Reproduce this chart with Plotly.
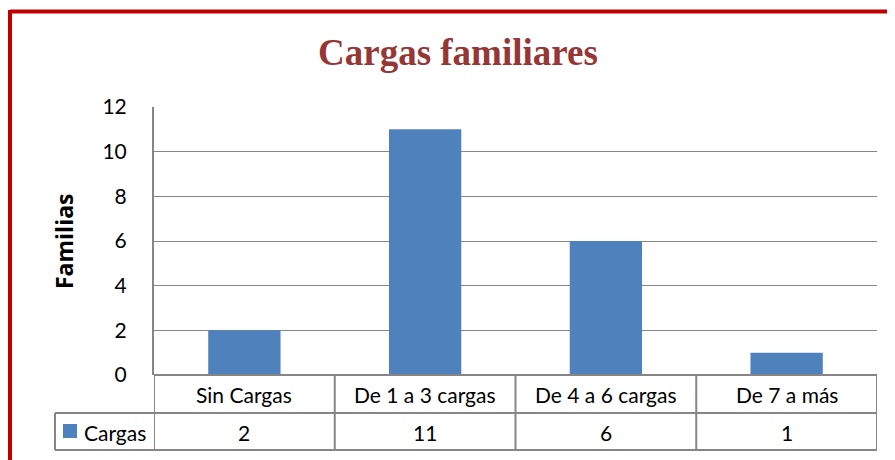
import plotly.graph_objects as go

categories = ["Sin Cargas", "De 1 a 3 cargas", "De 4 a 6 cargas", "De 7 a más"]
values = [2, 11, 6, 1]
series_name = "Cargas"
title_text = "Cargas familiares"
y_title = "Familias"
y_ticks = [0, 2, 4, 6, 8, 10, 12]

W, H = 895, 460
OFF = 8  # page body margin
L, R, T, B = 154, 877, 107, 375  # plot area in screen pixels

def px(x):
    return (x - L) / (R - L)

def py(y):
    return (B - y) / (B - T)

BAR = "#4F81BD"
GRID = "#868686"
FONT = "Lato"
FS = 21

fig = go.Figure()
fig.add_trace(go.Bar(x=list(range(len(categories))), y=values, marker=dict(color=BAR, line=dict(width=0)),
                     name=series_name, showlegend=False))

shapes = []
# red frame
shapes.append(dict(type="line", xref="paper", yref="paper", x0=px(10), x1=px(900), y0=py(11.5), y1=py(11.5),
                   line=dict(color="#C00000", width=4)))
shapes.append(dict(type="line", xref="paper", yref="paper", x0=px(10), x1=px(10), y0=py(10), y1=py(470),
                   line=dict(color="#C00000", width=4)))
# table horizontal lines
for yy, x0 in [(B, L), (413, 55), (450, 55)]:
    shapes.append(dict(type="line", xref="paper", yref="paper", x0=px(x0), x1=px(R), y0=py(yy), y1=py(yy),
                       line=dict(color=GRID, width=2)))
# table vertical lines
shapes.append(dict(type="line", xref="paper", yref="paper", x0=px(55), x1=px(55), y0=py(413), y1=py(450),
                   line=dict(color=GRID, width=2)))
n = len(categories)
for i in range(n + 1):
    shapes.append(dict(type="line", xref="x", yref="paper", x0=i - 0.5, x1=i - 0.5, y0=py(B), y1=py(450),
                       line=dict(color=GRID, width=2)))
# legend key
shapes.append(dict(type="rect", xref="paper", yref="paper", x0=px(63), x1=px(77), y0=py(438), y1=py(424),
                   fillcolor=BAR, line=dict(width=0)))

annotations = []
for i, c in enumerate(categories):
    annotations.append(dict(x=i, y=py(394), xref="x", yref="paper", text=c, showarrow=False,
                            font=dict(family=FONT, size=FS, color="black"), xanchor="center", yanchor="middle"))
    annotations.append(dict(x=i, y=py(432), xref="x", yref="paper", text=str(values[i]), showarrow=False,
                            font=dict(family=FONT, size=FS, color="black"), xanchor="center", yanchor="middle"))
annotations.append(dict(x=px(82), y=py(432), xref="paper", yref="paper", text=series_name, showarrow=False,
                        font=dict(family=FONT, size=FS, color="black"), xanchor="left", yanchor="middle"))
annotations.append(dict(x=px(64), y=py(242), xref="paper", yref="paper", text="<b>" + y_title + "</b>",
                        showarrow=False, textangle=-90, font=dict(family="Open Sans", size=23, color="black"),
                        xanchor="center", yanchor="middle"))
annotations.append(dict(x=px(458), y=py(53), xref="paper", yref="paper", text="<b>" + title_text + "</b>",
                        showarrow=False, font=dict(family="Liberation Serif", size=37, color="#953735"),
                        xanchor="center", yanchor="middle"))

fig.update_layout(
    width=W - OFF, height=H - OFF,
    margin=dict(l=L - OFF, r=W - R, t=T - OFF, b=H - B, pad=0),
    paper_bgcolor="white", plot_bgcolor="white",
    bargap=0.6,
    shapes=shapes, annotations=annotations,
    xaxis=dict(range=[-0.5, n - 0.5], showticklabels=False, showgrid=False, zeroline=False,
               showline=False, ticks="", fixedrange=True),
    yaxis=dict(range=[0, 12], tickvals=y_ticks, showgrid=True, gridcolor=GRID, gridwidth=1,
               zeroline=False, showline=True, linecolor=GRID, linewidth=2, ticks="",
               ticklabelstandoff=21, tickfont=dict(family=FONT, size=FS, color="black")),
    font=dict(family=FONT),
)

fig.write_html("out.html")
